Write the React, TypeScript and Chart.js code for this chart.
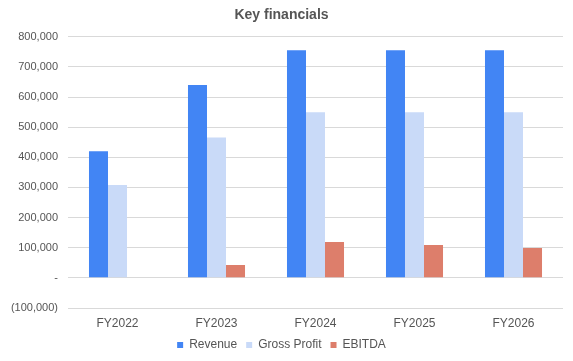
import React, { useEffect, useRef } from "react";
import { Chart, registerables } from "chart.js";

Chart.register(...registerables);

const categories = ["FY2022", "FY2023", "FY2024", "FY2025", "FY2026"];
const revenue = [420000, 640000, 755000, 755000, 755000];
const grossProfit = [308000, 466000, 550000, 550000, 550000];
const ebitda = [null, 43000, 119000, 109000, 99000];

const FONT = "'Liberation Sans', Arial, sans-serif";

export default function App() {
  const ref = useRef<HTMLCanvasElement | null>(null);
  useEffect(() => {
    document.body.style.margin = "0";
    const ctx = ref.current!;
    const chart = new Chart(ctx, {
      type: "bar",
      data: {
        labels: categories,
        datasets: [
          { label: "Revenue", data: revenue, backgroundColor: "#4285f4" },
          { label: "Gross Profit", data: grossProfit, backgroundColor: "#c9daf8" },
          { label: "EBITDA", data: ebitda as any, backgroundColor: "#dd7e6b" },
        ],
      },
      options: {
        animation: false,
        responsive: false,
        layout: { padding: { left: 0, right: 10, top: 0, bottom: 0 } },
        datasets: { bar: { barPercentage: 1, categoryPercentage: 0.576 } },
        plugins: {
          title: {
            display: true,
            text: "Key financials",
            color: "#555555",
            font: { family: FONT, size: 14, weight: "bold" },
            padding: { top: 7, bottom: 13 },
          },
          legend: {
            position: "bottom",
            labels: {
              boxWidth: 6,
              boxHeight: 6,
              padding: 9,
              color: "#555555",
              font: { family: FONT, size: 12 },
            },
          },
          tooltip: { enabled: false },
        },
        scales: {
          x: {
            afterFit: (s: any) => {
              s.height = 22;
            },
            grid: { display: false, drawTicks: false },
            border: { display: false },
            ticks: { color: "#555555", font: { family: FONT, size: 12 }, padding: 8 },
          },
          y: {
            min: -100000,
            max: 800000,
            afterFit: (s: any) => {
              s.width = 68;
            },
            grid: { color: "#d9d9d9", drawTicks: false },
            border: { display: false },
            ticks: {
              stepSize: 100000,
              padding: 10,
              color: "#555555",
              font: { family: FONT, size: 11 },
              callback: (v: any) => {
                const n = Number(v);
                if (n === 0) return "-";
                const s = Math.abs(n).toLocaleString("en-US");
                return n < 0 ? `(${s})` : s;
              },
            },
          },
        },
      },
    });
    return () => chart.destroy();
  }, []);
  return <canvas ref={ref} width={573} height={361} style={{ display: "block" }} />;
}
